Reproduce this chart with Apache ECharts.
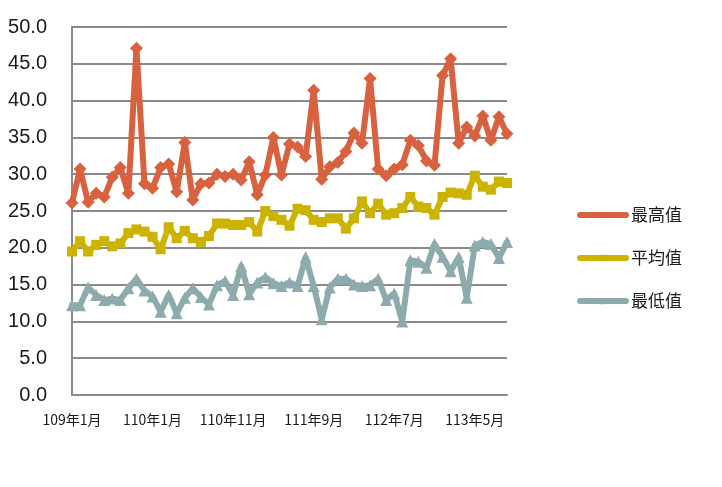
<!DOCTYPE html>
<html>
<head>
<meta charset="utf-8">
<script src="https://cdn.jsdelivr.net/npm/echarts@6/dist/echarts.min.js"></script>
<style>
html,body{margin:0;padding:0;background:#fff;}
#chart{width:722px;height:487px;}
</style>
</head>
<body>
<div id="chart"></div>
<script>
const categories = [
  '109年1月','109年2月','109年3月','109年6月','109年7月','109年8月','109年9月','109年10月','109年11月','109年12月',
  '110年1月','110年2月','110年3月','110年4月','110年5月','110年6月','110年7月','110年8月','110年9月','110年10月','110年11月','110年12月',
  '111年1月','111年2月','111年3月','111年4月','111年5月','111年6月','111年7月','111年8月','111年9月','111年10月','111年11月','111年12月',
  '112年1月','112年2月','112年3月','112年4月','112年5月','112年6月','112年7月','112年8月','112年9月','112年10月','112年11月','112年12月',
  '113年1月','113年2月','113年3月','113年4月','113年5月','113年6月','113年7月','113年8月','113年9月'
];
const seriesNames = ['最高值','平均值','最低值'];
const maxVals = [26.1,30.7,26.2,27.4,26.9,29.6,30.9,27.4,47.1,28.7,
  28.1,30.9,31.4,27.6,34.3,26.5,28.7,28.8,30.0,29.7,30.0,29.2,
  31.7,27.2,29.9,35.0,29.9,34.1,33.7,32.4,41.4,29.3,31.0,31.6,
  33.1,35.6,34.2,43.0,30.7,29.8,30.7,31.3,34.6,33.9,31.8,31.2,
  43.4,45.7,34.2,36.4,35.2,37.9,34.6,37.8,35.5];
const avgVals = [19.5,20.9,19.5,20.4,20.9,20.2,20.6,22.0,22.5,22.2,
  21.5,19.8,22.8,21.3,22.3,21.3,20.8,21.6,23.3,23.3,23.1,23.1,
  23.5,22.2,25.0,24.3,23.8,23.0,25.3,25.1,23.8,23.5,24.0,24.0,
  22.6,24.0,26.3,24.7,26.0,24.5,24.7,25.4,26.9,25.6,25.4,24.5,
  26.9,27.5,27.4,27.2,29.8,28.3,27.9,29.0,28.8];
const minVals = [12.2,12.2,14.6,13.6,12.9,13.1,12.9,14.5,15.8,14.2,
  13.4,11.3,13.6,11.1,13.2,14.5,13.3,12.3,14.9,15.5,13.6,17.5,
  13.7,15.3,16.0,15.2,14.8,15.3,14.8,18.7,14.8,10.3,14.6,15.8,
  15.8,15.0,14.8,14.9,15.8,12.9,13.8,10.0,18.3,18.1,17.3,20.5,
  18.8,16.8,18.7,13.2,20.3,20.8,20.5,18.6,20.8];

const colors = ['#D8613F','#CBB300','#8DABAD'];
const symbols = ['diamond','rect','triangle'];
const symbolSizes = [13,10,12];
const dataSets = [maxVals, avgVals, minVals];

const chart = echarts.init(document.getElementById('chart'), null, {renderer:'canvas'});
chart.setOption({
  animation:false,
  backgroundColor:'#ffffff',
  grid:{left:72,right:215,top:27,bottom:92,containLabel:false},
  legend:{
    orient:'vertical',
    left:572, top:200,
    itemWidth:46, itemHeight:8, itemGap:23,
    lineStyle:{width:6,cap:'round'},
    textStyle:{fontFamily:'Noto Sans CJK TC',fontSize:17,color:'#1a1a1a',lineHeight:20},
    data:seriesNames
  },
  xAxis:{
    type:'category',
    data:categories,
    boundaryGap:false,
    axisLine:{lineStyle:{color:'#8a8a8a',width:2}},
    axisTick:{show:false},
    axisLabel:{interval:9,margin:18,fontFamily:'Noto Sans CJK TC',fontSize:14,color:'#1a1a1a'},
    splitLine:{show:false}
  },
  yAxis:{
    type:'value',
    min:0,max:50,interval:5,
    axisLine:{show:true,lineStyle:{color:'#8a8a8a',width:2}},
    axisTick:{show:false},
    axisLabel:{margin:25,fontFamily:'Liberation Sans',fontSize:20,color:'#1a1a1a',
      formatter:function(v){return v.toFixed(1);}},
    splitLine:{lineStyle:{color:'#8a8a8a',width:2}}
  },
  series: seriesNames.map(function(n,i){
    return {
      name:n,type:'line',data:dataSets[i],
      symbol:symbols[i],symbolSize:symbolSizes[i],showAllSymbol:true,
      itemStyle:{color:colors[i]},
      lineStyle:{color:colors[i],width:6,join:'round',cap:'round'}
    };
  })
});
</script>
</body>
</html>
